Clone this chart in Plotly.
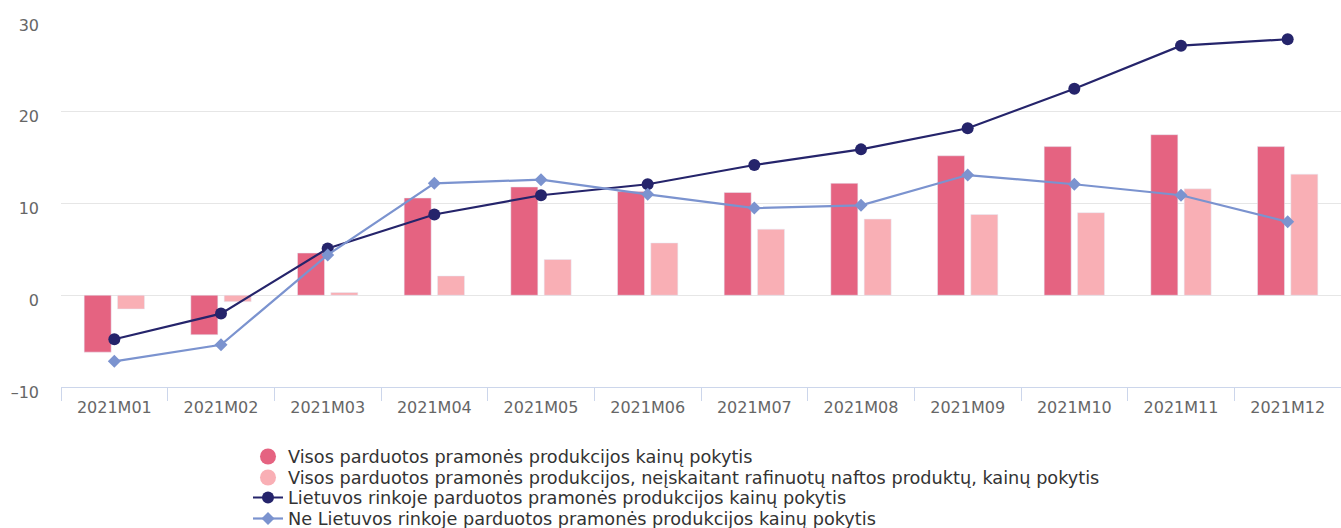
import plotly.graph_objects as go

categories = ["2021M01", "2021M02", "2021M03", "2021M04", "2021M05", "2021M06",
              "2021M07", "2021M08", "2021M09", "2021M10", "2021M11", "2021M12"]

all_sold = [-6.2, -4.3, 4.6, 10.6, 11.8, 11.3, 11.2, 12.2, 15.2, 16.2, 17.5, 16.2]
excl_oil = [-1.5, -0.7, 0.3, 2.1, 3.9, 5.7, 7.2, 8.3, 8.8, 9.0, 11.6, 13.2]
lt_market = [-4.8, -2.0, 5.1, 8.8, 10.9, 12.1, 14.2, 15.9, 18.2, 22.5, 27.2, 27.9]
non_lt_market = [-7.2, -5.4, 4.4, 12.2, 12.6, 11.0, 9.5, 9.8, 13.1, 12.1, 10.9, 8.0]

y_tickvals = [-10, 0, 10, 20, 30]
y_ticktext = ["–10", "0", "10", "20", "30"]

names = [
    "Visos parduotos pramonės produkcijos kainų pokytis",
    "Visos parduotos pramonės produkcijos, neįskaitant rafinuotų naftos produktų, kainų pokytis",
    "Lietuvos rinkoje parduotos pramonės produkcijos kainų pokytis",
    "Ne Lietuvos rinkoje parduotos pramonės produkcijos kainų pokytis",
]

c_bar1 = "#e56381"
c_bar2 = "#f9afb5"
c_line1 = "#25246b"
c_line2 = "#7b93cf"

fig = go.Figure()
fig.add_trace(go.Bar(x=categories, y=all_sold, name=names[0], marker_color=c_bar1,
                     showlegend=False))
fig.add_trace(go.Bar(x=categories, y=excl_oil, name=names[1], marker_color=c_bar2,
                     showlegend=False))
fig.add_trace(go.Scatter(x=categories, y=lt_market, name=names[2], mode="lines+markers",
                         line=dict(color=c_line1, width=2.2),
                         marker=dict(symbol="circle", size=12, color=c_line1),
                         legend="legend3"))
fig.add_trace(go.Scatter(x=categories, y=non_lt_market, name=names[3], mode="lines+markers",
                         line=dict(color=c_line2, width=2.2),
                         marker=dict(symbol="diamond", size=10, color=c_line2),
                         legend="legend4"))
# legend entries for bars (circle symbols as in the reference)
fig.add_trace(go.Scatter(x=[None], y=[None], name=names[0], mode="markers",
                         marker=dict(symbol="circle", size=16, color=c_bar1),
                         legend="legend"))
fig.add_trace(go.Scatter(x=[None], y=[None], name=names[1], mode="markers",
                         marker=dict(symbol="circle", size=16, color=c_bar2),
                         legend="legend2"))

W, H = 1341, 528
M_L, M_R, M_T, M_B = 61, 0, 20, 141
H_PLOT = H - M_T - M_B
W_PLOT = W - M_L - M_R
PLOT_BOTTOM = H - M_B


def leg(ypix):
    return dict(x=(248 - M_L) / W_PLOT, y=-(ypix - PLOT_BOTTOM) / H_PLOT,
                xanchor="left", yanchor="middle", orientation="v",
                font=dict(family="DejaVu Sans", size=17.7, color="#333333"),
                itemwidth=30, bgcolor="rgba(0,0,0,0)", borderwidth=0)


fig.update_layout(
    width=W, height=H,
    margin=dict(l=M_L, r=M_R, t=M_T, b=M_B, autoexpand=False),
    paper_bgcolor="white", plot_bgcolor="white",
    barmode="group", bargap=0.375, bargroupgap=0.19,
    font=dict(family="DejaVu Sans", size=15, color="#666666"),
    legend=leg(457), legend2=leg(478), legend3=leg(498), legend4=leg(519),
    xaxis=dict(type="category", range=[-0.5, len(categories) - 0.5],
               showgrid=False, showline=True, linecolor="#ccd6eb",
               linewidth=1, ticks="outside", tickson="boundaries", ticklen=13,
               tickcolor="#ccd6eb", ticklabelstandoff=6, automargin=False,
               tickfont=dict(size=16, color="#666666")),
    yaxis=dict(range=[-10, 30], tickvals=y_tickvals, ticktext=y_ticktext, showgrid=True,
               gridcolor="#e6e6e6", gridwidth=1, zeroline=False, showline=False,
               ticklabelstandoff=21, ticklabelshift=5, automargin=False,
               tickfont=dict(size=16, color="#666666")),
)

fig.write_html("out.html", config={"displayModeBar": False},
               post_script="document.body.style.margin='0';document.body.style.overflow='hidden';")
